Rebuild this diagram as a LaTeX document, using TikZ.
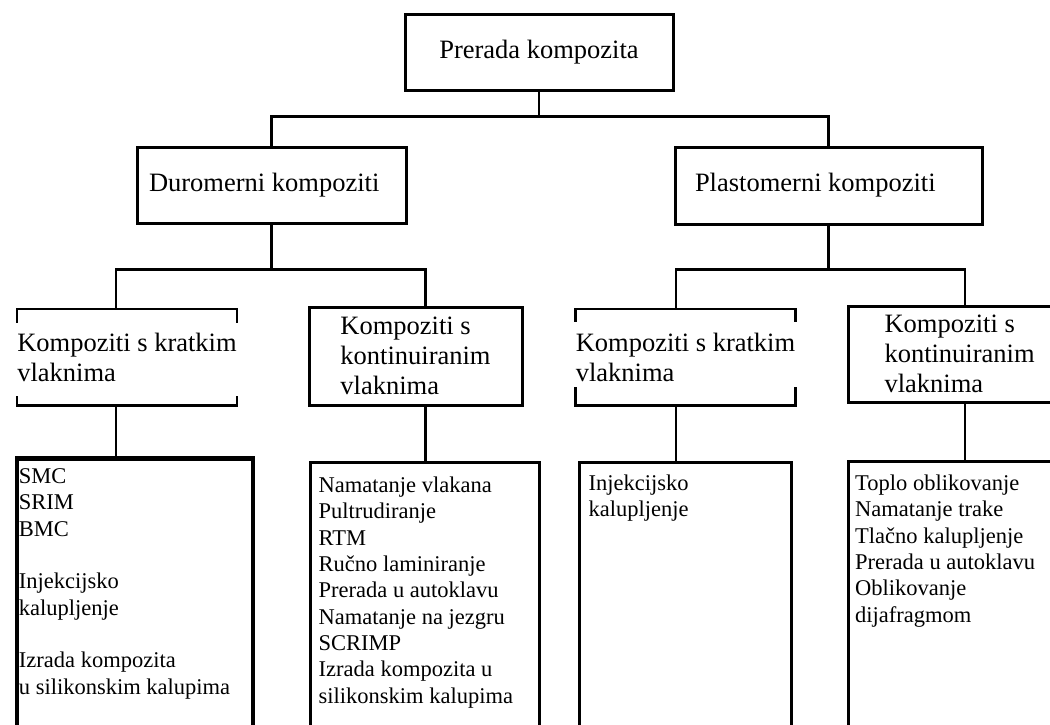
\documentclass[tikz,border=0pt]{standalone}
\usepackage{fontspec}
\setmainfont{Liberation Serif}
\usetikzlibrary{positioning}

\begin{document}
\begin{tikzpicture}[
    x=1pt, y=-1pt,
    line/.style={draw=black, line width=2.6pt},
    head/.style={rectangle, line, line width=3pt, inner ysep=0pt, font=\fontsize{26.5}{30}\selectfont},
    brack/.style={rectangle, inner sep=0pt, minimum width=212pt, minimum height=96pt, align=flush left, font=\fontsize{26.5}{30}\selectfont},
    listbox/.style={rectangle, line, line width=3pt, minimum height=300pt, anchor=north},
    items/.style={inner sep=0pt, align=flush left, font=\fontsize{22.5}{26.3}\selectfont}
  ]
    \path[use as bounding box, fill=white] (0,0) rectangle (1050,724);

    \node[head, minimum width=268pt, minimum height=76pt, align=center] (root) at (539,52) {Prerada kompozita};
    \node[head, minimum width=269pt, minimum height=76pt, text width=245pt, inner xsep=12pt, align=flush left] (duro) at (271.5,185) {Duromerni kompoziti};
    \node[head, minimum width=307pt, minimum height=77pt, text width=267pt, inner xsep=20pt, align=flush left] (plasto) at (828.5,185.5) {Plastomerni kompoziti};

    \node[brack] (dkratka) at (127,357) {Kompoziti s kratkim\\vlaknima};
    \node[head, minimum width=213pt, minimum height=98pt, align=flush left] (dkont) at (415.5,356) {Kompoziti s\\kontinuiranim\\vlaknima};
    \node[brack] (pkratka) at (685.5,357) {Kompoziti s kratkim\\vlaknima};
    \node[head, anchor=west, minimum height=96pt, text width=180pt, inner xsep=36pt, align=flush left] (pkont) at (847,354) {Kompoziti s\\kontinuiranim\\vlaknima};

    \node[listbox, line width=4.5pt, minimum width=236pt] (dk) at (135,456) {};
    \node[listbox, minimum width=229pt] (dko) at (424.5,461) {};
    \node[listbox, minimum width=212pt] (pk) at (685,461) {};
    \node[listbox, anchor=north west, minimum width=250pt] (pko) at (847,460) {};

    \node[items, below right=9pt and 4pt of dk.north west] (dkitems) {\strut SMC\\SRIM\\BMC\\[26.3pt]Injekcijsko\\kalupljenje\\[26.3pt]Izrada kompozita\\u silikonskim kalupima};
    \node[items, below right=13pt and 10pt of dko.north west] (dkoitems) {\strut Namatanje vlakana\\Pultrudiranje\\RTM\\Ručno laminiranje\\Prerada u autoklavu\\Namatanje na jezgru\\SCRIMP\\Izrada kompozita u\\silikonskim kalupima};
    \node[items, below right=11pt and 11pt of pk.north west] (pkitems) {\strut Injekcijsko\\kalupljenje};
    \node[items, below right=12pt and 8pt of pko.north west] (pkoitems) {\strut Toplo oblikovanje\\Namatanje trake\\Tlačno kalupljenje\\Prerada u autoklavu\\Oblikovanje\\dijafragmom};

    \draw[line] ([yshift=-14pt]dkratka.north west) |- (dkratka.north east) -- ++(0pt,-14pt);
    \draw[line] ([yshift=9pt]dkratka.south west) |- (dkratka.south east) -- ++(0pt,9pt);
    \draw[line] ([yshift=-13pt]pkratka.north west) |- (pkratka.north east) -- ++(0pt,-13pt);
    \draw[line] ([yshift=18pt]pkratka.south west) |- (pkratka.south east) -- ++(0pt,18pt);

    \coordinate (x1) at (116,0);
    \coordinate (x2) at (425.5,0);
    \coordinate (x3) at (676,0);
    \coordinate (x4) at (965,0);

    \draw[line] (root.south) -- ++(0,25) coordinate (r1);
    \draw[line] (duro.north) |- (r1) -| (plasto.north);

    \draw[line] (duro.south) -- ++(0,45) coordinate (d1);
    \draw[line] (x1 |- dkratka.north) |- (d1) -| (x2 |- dkont.north);
    \draw[line] (plasto.south) -- ++(0,44) coordinate (p1);
    \draw[line] (x3 |- pkratka.north) |- (p1) -| (x4 |- pkont.north);

    \draw[line] (x1 |- dkratka.south) -- (x1 |- dk.north);
    \draw[line] (x2 |- dkont.south) -- (x2 |- dko.north);
    \draw[line] (x3 |- pkratka.south) -- (x3 |- pk.north);
    \draw[line] (x4 |- pkont.south) -- (x4 |- pko.north);
  \end{tikzpicture}
\end{document}
